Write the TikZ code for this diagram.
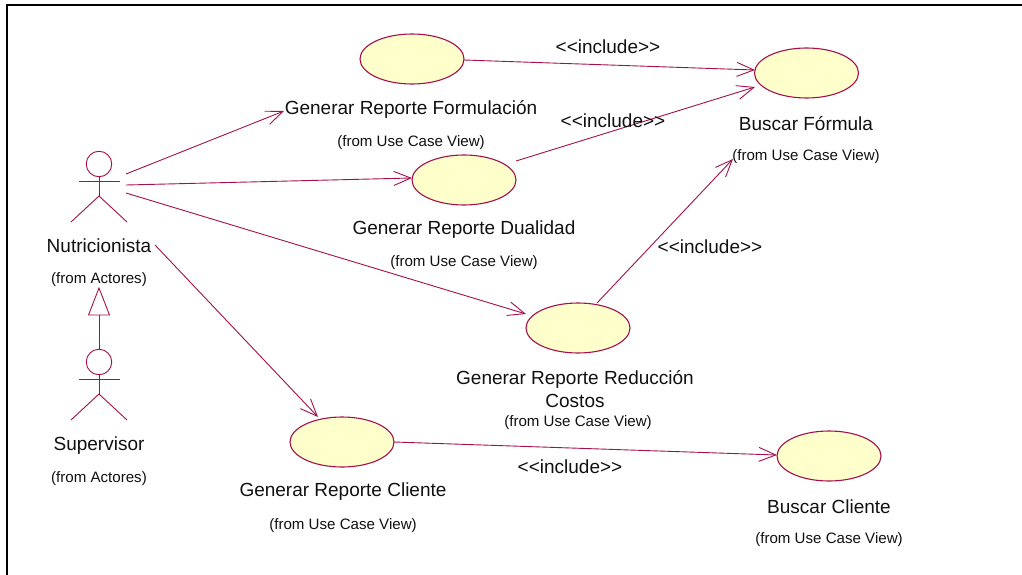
\documentclass[tikz,border=0pt]{standalone}
\usepackage{fontspec}
\setmainfont{Liberation Sans}
\usetikzlibrary{arrows.meta,shapes.geometric}
\definecolor{umlline}{HTML}{A5104C}
\definecolor{umlfill}{HTML}{FFFFCC}
\definecolor{umltext}{HTML}{111111}
\tikzset{
  x=1pt,y=-1pt,
  usecase/.style={draw=umlline,fill=umlfill,line width=1.1pt,ellipse,minimum width=104pt,minimum height=50pt,inner sep=0pt},
  limb/.style={draw=umlline,line width=0.9pt},
  assoc/.style={draw=umlline,line width=0.9pt,-{Straight Barb[length=17pt,width=14pt,line width=0.9pt]}},
  gener/.style={draw=umlline,line width=0.9pt},
  mainlabel/.style={text=umltext,font=\fontsize{19}{21}\selectfont,inner sep=0pt},
  fromlabel/.style={text=umltext,font=\fontsize{15.1}{17}\selectfont,inner sep=0pt},
}
\begin{document}
\begin{tikzpicture}
\useasboundingbox (0,0) rectangle (1022,575);
\fill[white] (0,0) rectangle (1022,575);
% frame
\coordinate (fa) at (7,575); \coordinate (fb) at (7,5); \coordinate (fc) at (1022,5);
\draw[black,line width=2pt] (fa) -- (fb) -- (fc);
% actors
\foreach \n/\y in {nut/0,sup/198}{
  \begin{scope}[yshift=-\y pt]
  \node[circle,draw=umlline,line width=0.9pt,minimum size=25.5pt,inner sep=0pt] (\n head) at (99,164) {};
  \coordinate (\n hip) at (99,196);
  \coordinate (\n la) at (79,181); \coordinate (\n ra) at (120,181);
  \coordinate (\n ll) at (71,222); \coordinate (\n rl) at (127,222);
  \draw[limb] (\n head.south) -- (\n hip);
  \draw[limb] (\n la) -- (\n ra);
  \draw[limb] (\n ll) -- (\n hip) -- (\n rl);
  \end{scope}
}
% use cases
\node[usecase] (rf) at (412,59) {};
\node[usecase] (bf) at (806.5,73) {};
\node[usecase] (rd) at (464,180) {};
\node[usecase] (rr) at (578,328) {};
\node[usecase] (rc) at (342,442) {};
\node[usecase] (bc) at (829,456) {};
% labels
\node[mainlabel] (lnut) at (99,246) {Nutricionista};
\node[fromlabel] (onut) at (99,280) {(from Actores)};
\node[mainlabel] (lsup) at (99,446) {Supervisor};
\node[fromlabel] (osup) at (99,479) {(from Actores)};
\node[mainlabel] (lrf) at (411,109) {Generar Reporte Formulación};
\node[fromlabel] (orf) at (411,143) {(from Use Case View)};
\node[mainlabel] (lbf) at (806,123.5) {Buscar Fórmula};
\node[fromlabel] (obf) at (806,157) {(from Use Case View)};
\node[mainlabel] (lrd) at (464,229.5) {Generar Reporte Dualidad};
\node[fromlabel] (ord) at (464,263) {(from Use Case View)};
\node[mainlabel] (lrr) at (575,379) {Generar Reporte Reducción};
\node[mainlabel] (lrr2) at (575,401) {Costos};
\node[fromlabel] (orr) at (578,423) {(from Use Case View)};
\node[mainlabel] (lrc) at (343,492) {Generar Reporte Cliente};
\node[fromlabel] (orc) at (343,526) {(from Use Case View)};
\node[mainlabel] (lbc) at (829,507) {Buscar Cliente};
\node[fromlabel] (obc) at (829,540) {(from Use Case View)};
% connector ends
\coordinate (a1) at (126,174); \coordinate (a2) at (126,185); \coordinate (a3) at (126,193);
\coordinate (a4) at (155,245); \coordinate (t1) at (284,111); \coordinate (t3) at (733,159);
\coordinate (t4) at (318,417);
\coordinate (s1) at (464,60); \coordinate (t5) at (755,70);
\coordinate (s2) at (516,161); \coordinate (t6) at (755,87);
\coordinate (s3) at (597,303); \coordinate (t7) at (412,178); \coordinate (t8) at (526,314);
\coordinate (s4) at (394,442); \coordinate (t9) at (777,455);
% associations
\draw[assoc] (a1) -- (t1);
\draw[assoc] (a2) -- (t7);
\draw[assoc] (a3) -- (t8);
\draw[assoc] (a4) -- (t4);
\draw[assoc] (s1) -- (t5);
\draw[assoc] (s2) -- (t6);
\draw[assoc] (s3) -- (t3);
\draw[assoc] (s4) -- (t9);
% include labels
\node[mainlabel] (i1) at (608,47) {<{}<include>{}>};
\node[mainlabel] (i2) at (613,121) {<{}<include>{}>};
\node[mainlabel] (i3) at (710,247) {<{}<include>{}>};
\node[mainlabel] (i4) at (570,467) {<{}<include>{}>};
% generalization
\coordinate (gtop) at (99,288); \coordinate (gl) at (88.5,315); \coordinate (gr) at (109.5,315); \coordinate (gb) at (99,315);
\draw[gener] (gtop) -- (gl) -- (gr) -- cycle;
\draw[gener] (suphead.north) -- (gb);
\end{tikzpicture}
\end{document}
